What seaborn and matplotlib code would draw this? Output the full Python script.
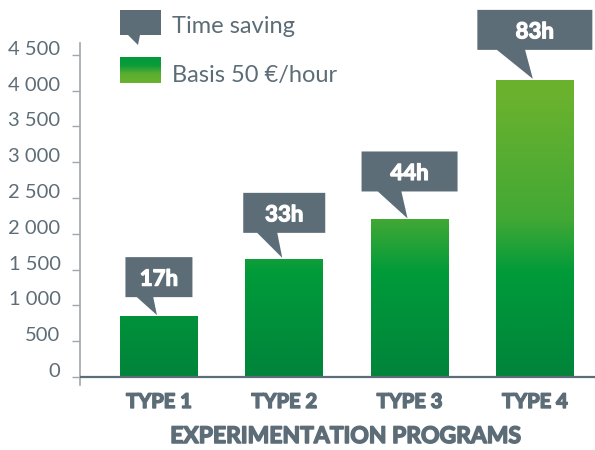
import matplotlib
matplotlib.use("Agg")
import numpy as np
import pandas as pd
import seaborn as sns
import matplotlib.pyplot as plt
import matplotlib.patheffects as pe
import matplotlib.transforms as mtransforms
from matplotlib.colors import LinearSegmentedColormap
from matplotlib.patches import Polygon

programs = ["TYPE 1", "TYPE 2", "TYPE 3", "TYPE 4"]
hours_saved = [17, 33, 44, 83]
savings_eur = [850, 1650, 2200, 4150]
y_ticks = [0, 500, 1000, 1500, 2000, 2500, 3000, 3500, 4000, 4500]
y_tick_labels = ["0", "500", "1 000", "1 500", "2 000", "2 500",
                 "3 000", "3 500", "4 000", "4 500"]
hour_labels = [f"{h}h" for h in hours_saved]

GREY = "#5d6d77"
AXIS_GREY = "#9ea8ae"
Y_TOP = 4665

sns.set_style("white")
plt.rcParams["font.family"] = ["Lato", "DejaVu Sans"]

fig = plt.figure(figsize=(5.95, 4.5), dpi=100)
ax = fig.add_axes([80 / 595, 1 - 385 / 450, 515 / 595, 342 / 450])

df = pd.DataFrame({"program": programs, "saving": savings_eur})
sns.barplot(data=df, x="program", y="saving", color="#009a3a", saturation=1,
            width=0.62, linewidth=0, ax=ax)
bars = list(ax.patches)

# vertical green gradient, shared across bars (in data units)
green = LinearSegmentedColormap.from_list("bars", [
    (0.0, "#00843a"), (1450 / Y_TOP, "#009b3a"), (2200 / Y_TOP, "#42a835"),
    (3900 / Y_TOP, "#6ab22e"), (1.0, "#6ab22e")])
grad = np.linspace(0, 1, 256).reshape(-1, 1)
for bar in bars:
    x0, w = bar.get_x(), bar.get_width()
    bar.set_facecolor("none")
    im = ax.imshow(grad, cmap=green, origin="lower", aspect="auto",
                   extent=(x0, x0 + w, 0, Y_TOP), zorder=2)
    im.set_clip_path(bar)

ax.set_xlim(-0.63, 3.48)
ax.set_ylim(-112, Y_TOP)

# heavier look for the bold labels (Lato Black isn't available)
heavy_grey = [pe.withStroke(linewidth=1.1, foreground=GREY)]
heavy_white = [pe.withStroke(linewidth=0.9, foreground="white")]

# speech-bubble callouts above each bar (sizes in pixels)
box_half = [33.5, 41, 48, 57.5]
box_gap = [19, 26, 28, 30]
for bar, label, hw, gap in zip(bars, hour_labels, box_half, box_gap):
    cx = bar.get_x() + bar.get_width() / 2
    anchor = mtransforms.ScaledTranslation(cx, bar.get_height(), ax.transData)
    trans = mtransforms.Affine2D().scale(fig.dpi / 100) + anchor
    verts = [(-hw, gap + 40), (hw, gap + 40), (hw, gap), (-0.17 * hw, gap),
             (-2, 1), (-0.66 * hw, gap), (-hw, gap)]
    ax.add_patch(Polygon(verts, closed=True, color=GREY, transform=trans,
                         clip_on=False, zorder=3, lw=0))
    ax.text(0, gap + 20, label, transform=trans, ha="center",
            va="center_baseline", color="white", fontsize=16,
            fontweight="bold", zorder=4, path_effects=heavy_white)

# axes styling
for side in ["top", "right", "bottom"]:
    ax.spines[side].set_visible(False)
ax.spines["left"].set_color(AXIS_GREY)
ax.spines["left"].set_linewidth(1.2)
ax.axhline(0, color=GREY, lw=1.6, zorder=5)

ax.set_yticks(y_ticks, y_tick_labels)
ax.tick_params(axis="y", left=True, length=6, width=1, color=AXIS_GREY,
               pad=8, labelsize=14.5, labelcolor=GREY)
for lbl in ax.get_yticklabels():
    lbl.set_va("baseline")

ax.tick_params(axis="x", bottom=False, length=0, pad=16.5, labelsize=14.5,
               labelcolor=GREY)
for lbl in ax.get_xticklabels():
    lbl.set_fontweight("bold")
    lbl.set_va("baseline")
    lbl.set_path_effects(heavy_grey)

ax.set_xlabel("EXPERIMENTATION PROGRAMS", fontsize=16.5, fontweight="bold",
              color=GREY, path_effects=heavy_grey)
ax.set_ylabel("")
ax.xaxis.label.set_va("baseline")
ax.xaxis.set_label_coords((346 - 80) / 515, (385 - 443) / 342)

# legend drawn in pixel coordinates (top-left origin)
px = mtransforms.Affine2D().scale(1, -1).translate(0, 450).scale(fig.dpi / 100)
bubble = [(120, 10), (161, 10), (161, 35), (140, 35), (138, 45), (128, 35),
          (120, 35)]
fig.patches.append(Polygon(bubble, closed=True, color=GREY, lw=0,
                           transform=px, figure=fig))
fig.text(172, 33, "Time saving", transform=px, fontsize=17, color=GREY,
         va="baseline")

swatch_ax = fig.add_axes([120 / 595, 1 - 83 / 450, 41 / 595, 26 / 450])
swatch = LinearSegmentedColormap.from_list("swatch", [
    (0.0, "#6ab22e"), (0.35, "#5aae31"), (0.65, "#0c9c3a"), (1.0, "#009a3a")])
swatch_ax.imshow(grad, cmap=swatch, origin="lower", aspect="auto")
swatch_ax.axis("off")
fig.text(172, 82, "Basis 50 €/hour", transform=px, fontsize=17, color=GREY,
         va="baseline")

fig.savefig("out.png", dpi=100)
